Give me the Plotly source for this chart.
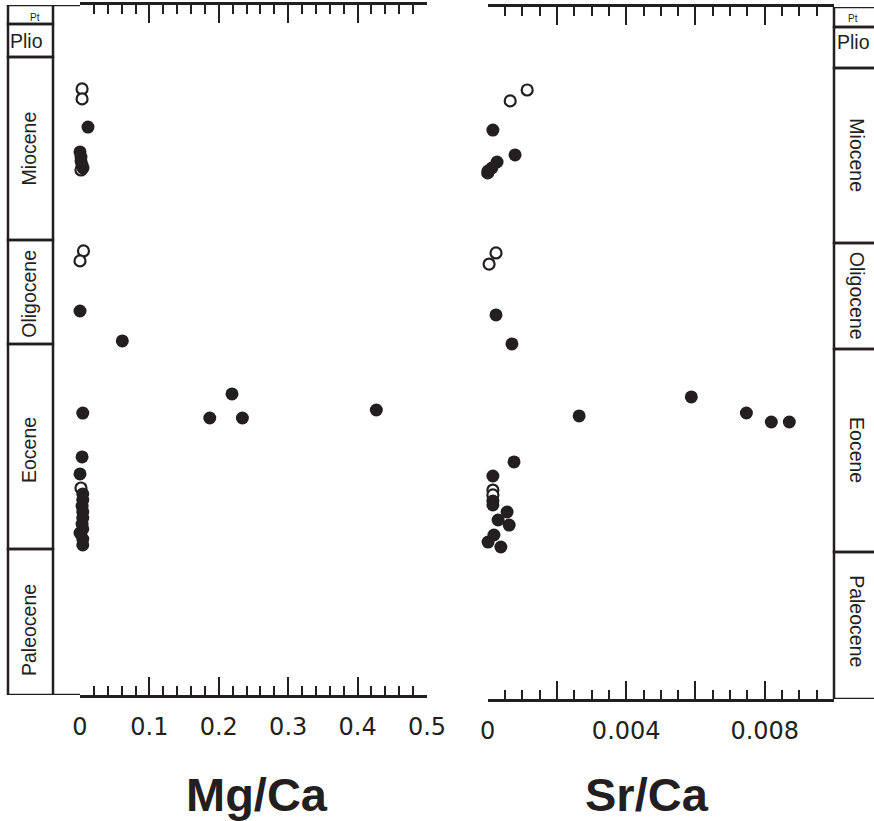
import plotly.graph_objects as go

W, H = 874, 821
INK = "#231f20"

# ---------------- data ----------------
# Mg/Ca panel
mg_filled_val = [0.0115, 0.000, 0.0014, 0.0014, 0.0029, 0.0043, 0.000, 0.061, 0.219, 0.187,
                 0.234, 0.427, 0.004, 0.003, 0.000, 0.004, 0.004, 0.003, 0.004, 0.004,
                 0.003, 0.004, 0.000, 0.004, 0.004]
mg_filled_age = [12.34, 14.86, 15.37, 15.77, 16.18, 16.48, 30.94, 33.97, 39.33, 41.76,
                 41.76, 40.95, 41.26, 45.70, 47.42, 49.44, 50.05, 50.66, 51.26, 51.87,
                 52.48, 52.98, 53.39, 54.00, 54.60]
mg_open_val = [0.003, 0.003, 0.0014, 0.005, 0.000, 0.0014]
mg_open_age = [8.49, 9.50, 16.68, 24.87, 25.88, 48.84]

# Sr/Ca panel
sr_filled_val = [0.00015, 0.00079, 0.00027, 0.00012, 0.00001, 0.00024, 0.00070, 0.00588,
                 0.00264, 0.00747, 0.00819, 0.00871, 0.00076, 0.00015, 0.00015, 0.00015,
                 0.00056, 0.00030, 0.00062, 0.00018, 0.00001, 0.00038]
sr_filled_age = [12.44, 14.96, 15.67, 16.28, 16.58, 31.14, 34.07, 39.43,
                 41.35, 41.05, 41.96, 41.96, 46.00, 47.42, 49.95, 50.35,
                 51.06, 51.87, 52.38, 53.39, 54.10, 54.60]
sr_open_val = [0.00065, 0.00114, 0.0, 0.00024, 0.00004, 0.00015, 0.00015]
sr_open_age = [9.50, 8.39, 16.78, 24.87, 25.99, 48.84, 49.34]

# tick values / labels
mg_ticks = [0, 0.1, 0.2, 0.3, 0.4, 0.5]
mg_ticktext = ["0", "0.1", "0.2", "0.3", "0.4", "0.5"]
sr_ticks = [0, 0.002, 0.004, 0.006, 0.008, 0.010]
sr_ticktext = ["0", "", "0.004", "", "0.008", ""]

# timescale (Ma) -- boundaries as drawn in each column
epochs = ["Pt", "Plio", "Miocene", "Oligocene", "Eocene", "Paleocene"]
left_bounds = [0, 1.92, 5.26, 23.76, 34.28, 55.0, 69.77]
right_bounds = [0, 2.02, 6.17, 23.86, 34.58, 55.1, 69.97]
left_label_age = [1.31, 3.59, 14.5, 29.2, 45.0, 63.2]
right_label_age = [1.21, 3.49, 15.0, 29.2, 44.8, 62.1]

# ---------------- layout helpers ----------------
def px(x):
    return x / W

def py(y):
    return 1 - y / H

fig = go.Figure()

mk_f = dict(size=13, color=INK, line=dict(width=0))
mk_o = dict(size=11, color="white", line=dict(width=2.2, color=INK))

fig.add_trace(go.Scatter(x=mg_open_val, y=mg_open_age, mode="markers", marker=mk_o,
                         xaxis="x", yaxis="y", cliponaxis=False))
fig.add_trace(go.Scatter(x=mg_filled_val, y=mg_filled_age, mode="markers", marker=mk_f,
                         xaxis="x", yaxis="y", cliponaxis=False))
fig.add_trace(go.Scatter(x=sr_open_val, y=sr_open_age, mode="markers", marker=mk_o,
                         xaxis="x2", yaxis="y2", cliponaxis=False))
fig.add_trace(go.Scatter(x=sr_filled_val, y=sr_filled_age, mode="markers", marker=mk_f,
                         xaxis="x2", yaxis="y2", cliponaxis=False))

tickfont = dict(family="DejaVu Sans", size=24, color=INK)
common_x = dict(showline=True, linewidth=2.5, linecolor=INK, mirror="ticks",
                ticks="inside", ticklen=18, tickwidth=2.3, tickcolor=INK,
                showgrid=False, zeroline=False, tickfont=tickfont,
                ticklabelstandoff=8, fixedrange=True, automargin=False)

fig.update_layout(
    width=W, height=H, autosize=False,
    margin=dict(l=0, r=0, t=0, b=0, pad=0, autoexpand=False),
    paper_bgcolor="white", plot_bgcolor="white",
    showlegend=False,
    xaxis=dict(domain=[px(80), px(427)], range=[0, 0.5], tickmode="array",
               tickvals=mg_ticks, ticktext=mg_ticktext,
               minor=dict(dtick=0.02, tick0=0, ticks="inside", ticklen=9,
                          tickwidth=2.2, tickcolor=INK, showgrid=False),
               anchor="y", **common_x),
    yaxis=dict(domain=[py(695), py(5)], range=[left_bounds[-1], 0], visible=False,
               anchor="x", automargin=False),
    xaxis2=dict(domain=[px(487.7), px(834)], range=[0, 0.010], tickmode="array",
                tickvals=sr_ticks, ticktext=sr_ticktext,
                minor=dict(dtick=0.0005, tick0=0, ticks="inside", ticklen=9,
                           tickwidth=2.2, tickcolor=INK, showgrid=False),
                anchor="y2", **common_x),
    yaxis2=dict(domain=[py(699), py(7)], range=[right_bounds[-1], 0], visible=False,
                anchor="x2", automargin=False),
)

shapes = []
LW = 2.5
# left column boxes
for i in range(len(epochs)):
    shapes.append(dict(type="rect", xref="paper", yref="y", x0=px(8), x1=px(53),
                       y0=left_bounds[i], y1=left_bounds[i + 1],
                       line=dict(color=INK, width=LW), fillcolor="rgba(0,0,0,0)"))
# right column boxes
for i in range(len(epochs)):
    shapes.append(dict(type="rect", xref="paper", yref="y2", x0=px(834), x1=px(880),
                       y0=right_bounds[i], y1=right_bounds[i + 1],
                       line=dict(color=INK, width=LW), fillcolor="rgba(0,0,0,0)"))
# connect left column to the Mg/Ca axis lines
for yy in (left_bounds[0], left_bounds[-1]):
    shapes.append(dict(type="line", xref="paper", yref="y", x0=px(53), x1=px(80),
                       y0=yy, y1=yy, line=dict(color=INK, width=LW)))
fig.update_layout(shapes=shapes)

ann = []
lab_font = dict(family="Liberation Sans, Arial, sans-serif", size=19.5, color=INK)
small_font = dict(family="Liberation Sans, Arial, sans-serif", size=10, color=INK)
for i, name in enumerate(epochs):
    if name == "Pt":
        ann.append(dict(text=name, xref="paper", yref="y", x=px(34.5), y=left_label_age[i],
                        showarrow=False, font=small_font, xanchor="center", yanchor="middle"))
        ann.append(dict(text=name, xref="paper", yref="y2", x=px(853), y=right_label_age[i],
                        showarrow=False, font=small_font, xanchor="center", yanchor="middle"))
    elif name == "Plio":
        ann.append(dict(text=name, xref="paper", yref="y", x=px(8), y=left_label_age[i],
                        showarrow=False, font=lab_font, xanchor="left", yanchor="middle"))
        ann.append(dict(text=name, xref="paper", yref="y2", x=px(835), y=right_label_age[i],
                        showarrow=False, font=lab_font, xanchor="left", yanchor="middle"))
    else:
        ann.append(dict(text=name, xref="paper", yref="y", x=px(29), y=left_label_age[i],
                        showarrow=False, font=lab_font, textangle=-90,
                        xanchor="center", yanchor="middle"))
        ann.append(dict(text=name, xref="paper", yref="y2", x=px(857), y=right_label_age[i],
                        showarrow=False, font=lab_font, textangle=90,
                        xanchor="center", yanchor="middle"))

title_font = dict(family="Liberation Sans, Arial, sans-serif", size=47, color=INK, weight="bold")
ann.append(dict(text="Mg/Ca", xref="paper", yref="paper", x=px(257), y=py(794),
                showarrow=False, font=title_font, xanchor="center", yanchor="middle"))
ann.append(dict(text="Sr/Ca", xref="paper", yref="paper", x=px(647), y=py(794),
                showarrow=False, font=title_font, xanchor="center", yanchor="middle"))
fig.update_layout(annotations=ann)

fig.write_html("out.html", config={"responsive": False},
               default_width="874px", default_height="821px",
               post_script="document.body.style.margin='0';document.body.style.overflow='hidden';")
